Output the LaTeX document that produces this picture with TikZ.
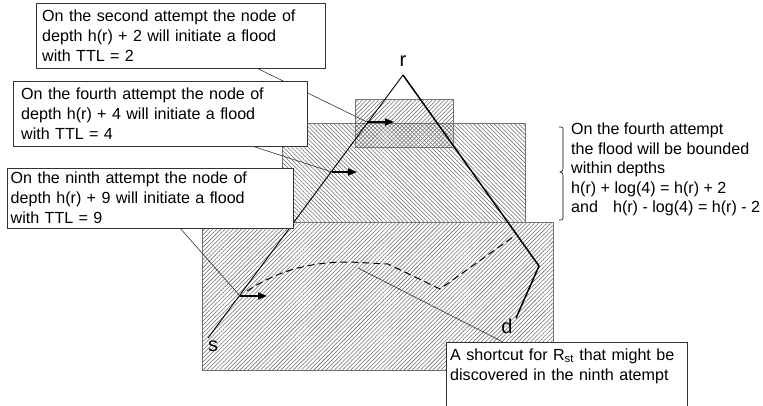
\documentclass[tikz,border=0pt]{standalone}
\usepackage{fontspec}
\setmainfont{Liberation Sans}
\usetikzlibrary{arrows.meta,calc,patterns.meta}
\pgfdeclarelayer{notes}
\pgfsetlayers{main,notes}

\begin{document}
\begin{tikzpicture}[
  x=1pt, y=-1pt,
  font=\fontsize{16.1}{20}\selectfont,
  note/.style={draw=black!80, fill=white, anchor=north west, align=left, inner ysep=0pt, minimum height=65pt},
  hatchne/.style={draw=black!55, pattern={Lines[angle=45,distance=2.9pt,line width=0.55pt]}, pattern color=black!58},
  hatchnw/.style={draw=black!55, pattern={Lines[angle=-45,distance=2.9pt,line width=0.55pt]}, pattern color=black!58},
  lead/.style={draw=black!80, line width=0.6pt},
  arr/.style={-{Triangle[length=9pt,width=7pt]}, line width=1.8pt},
  lbl/.style={font=\fontsize{20}{24}\selectfont, inner sep=0pt}
]
  \useasboundingbox (0,0) rectangle (763,405);

  % depth bands of the three attempts
  \path[hatchne] (202,222) rectangle (553,370);
  \path[hatchnw] (282,123) rectangle (525,222);
  \path[hatchne] (355,99) rectangle (453,147);

  % route from s to d through r
  \coordinate (r) at (403,75);
  \coordinate (s) at (208,338);
  \coordinate (k) at (539,266);
  \coordinate (d) at (516,318);
  \draw[line width=0.9pt] (r) -- (s);
  \draw[line width=1.5pt] (r) -- (k) -- (d);

  \node[lbl] (rl) at (403,61) {r};
  \node[lbl] (sl) at (213,346) {s};
  \node[lbl] (dl) at (507,326) {d};

  % shortcut found on the ninth attempt
  \draw[line width=1pt, dash pattern=on 7pt off 4pt]
    (247,291) .. controls (285,266) and (320,262) .. (350,262)
    -- (388,264) -- (440,289) -- (513,237);
  \coordinate (cut) at (358,268);

  % flood initiators
  \coordinate (f2) at (367,122);
  \coordinate (f4) at (332,172);
  \coordinate (f9) at (240,296);
  \draw[arr] (f2) -- ++(27,0);
  \draw[arr] (f4) -- ++(25,0);
  \draw[arr] (f9) -- ++(27,0);

  \begin{pgfonlayer}{notes}
    \node[note, text width=277pt, inner xsep=6pt] (n2) at (36,3)
      {On the second attempt the node of\\depth h(r) + 2 will initiate a flood\\with TTL = 2};
    \node[note, text width=278pt, inner xsep=8pt] (n4) at (13,81)
      {On the fourth attempt the node of\\depth h(r) + 4 will initiate a flood\\with TTL = 4};
    \node[note, text width=279pt, inner xsep=3.5pt, minimum height=60pt] (n9) at (7,168)
      {On the ninth attempt the node of\\depth h(r) + 9 will initiate a flood\\with TTL = 9};
    \node[note, text width=233pt, inner xsep=4pt, minimum height=64pt] (nst) at (446,342)
      {A shortcut for R\textsubscript{st} that might be\\discovered in the ninth atempt\\\mbox{}};
  \end{pgfonlayer}

  % leader lines behind the notes
  \draw[lead] ($(n2.south west)!0.765!(n2.south east)$) -- (f2);
  \draw[lead] ($(n4.south west)!0.816!(n4.south east)$) -- (f4);
  \draw[lead] ($(n9.south west)!0.605!(n9.south east)$) -- (f9);
  \draw[lead] (cut) -- ($(nst.north west)!0.236!(nst.north east)$);

  % bound of the fourth attempt
  \node[anchor=north west, align=left, inner sep=0pt, font=\fontsize{16.1}{19.5}\selectfont] (bound) at (571,123)
    {On the fourth attempt\\the flood will be bounded\\within depths\\h(r) + log(4) = h(r) + 2\\and\hspace{15pt}h(r) - log(4) = h(r) - 2};
  \draw[line width=0.6pt] (559,127) .. controls (563,127) .. (563,131) -- (563,168)
    .. controls (563,171) .. (560,172) .. controls (563,173) .. (563,176)
    -- (563,216) .. controls (563,220) .. (559,220);
\end{tikzpicture}
\end{document}
